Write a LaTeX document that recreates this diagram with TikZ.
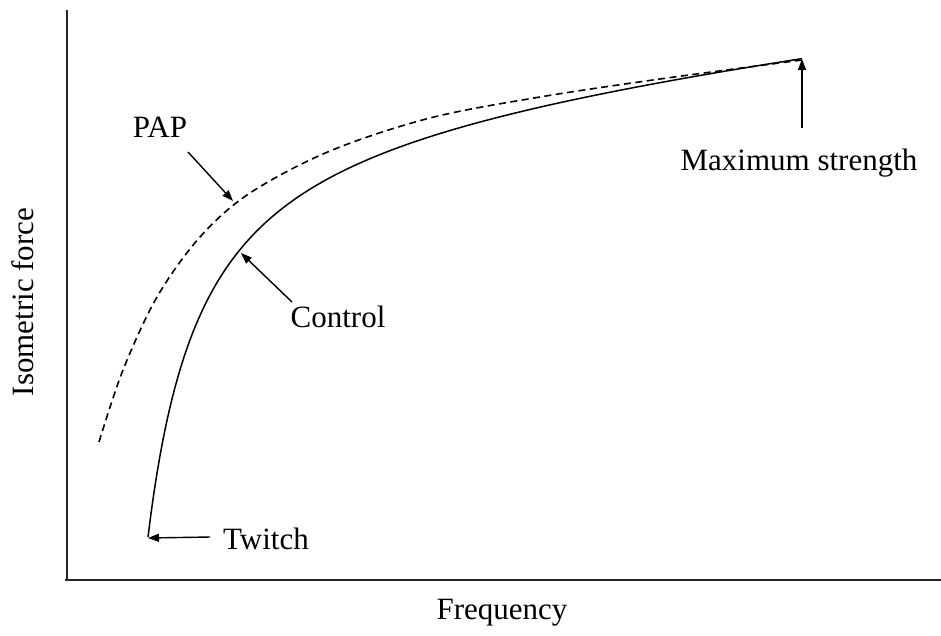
\documentclass[tikz,border=0pt]{standalone}
\usepackage{fontspec}
\setmainfont{Liberation Serif}
\usetikzlibrary{arrows.meta}
\begin{document}
\begin{tikzpicture}[x=1pt,y=-1pt,
  axis/.style={line width=2pt,black!85},
  curve/.style={line width=1.5pt,line join=round},
  pap/.style={line width=1.6pt,dash pattern=on 7pt off 4.5pt},
  pointer/.style={line width=1.4pt,-{Triangle[length=11pt,width=8pt]}},
  lbl/.style={font=\fontsize{31}{36}\selectfont,inner sep=0pt}]
\useasboundingbox (0,0) rectangle (941,635);
\coordinate (ytop) at (67,10);
\coordinate (origin) at (67,580);
\coordinate (xend) at (941,580);
\draw[axis] (ytop) -- (origin);
\draw[axis] (65,580) -- (xend);
% control curve
\draw[curve] plot[domain=0:654,samples=220,variable=\u] ({148+\u},{537-(440*(\u/(54+\u))+0.11*\u)});
% PAP curve
\draw[pap] plot[smooth,tension=0.55] coordinates {(99,442) (123,370) (157,297) (200,237) (250,193) (330,151) (430,118) (540,97) (660,79) (802,60)};
% labels
\node[lbl] (pap) at (160,127) {PAP};
\node[lbl] (control) at (338,317) {Control};
\node[lbl] (twitch) at (266,539) {Twitch};
\node[lbl] (maxs) at (799,163) {Maximum strength};
\node[lbl,rotate=90] (ylab) at (23,302) {Isometric force};
\node[lbl] (xlab) at (502,613) {Frequency};
% arrow points
\coordinate (papT) at (188,152);
\coordinate (papH) at (233,201);
\coordinate (conT) at (292,302);
\coordinate (conH) at (241,253);
\coordinate (twT) at (210,537);
\coordinate (twH) at (148,538);
\coordinate (mxT) at (802,128);
\coordinate (mxH) at (802,59);
\draw[pointer] (papT) -- (papH);
\draw[pointer] (conT) -- (conH);
\draw[pointer] (twT) -- (twH);
\draw[pointer] (mxT) -- (mxH);
\end{tikzpicture}
\end{document}
